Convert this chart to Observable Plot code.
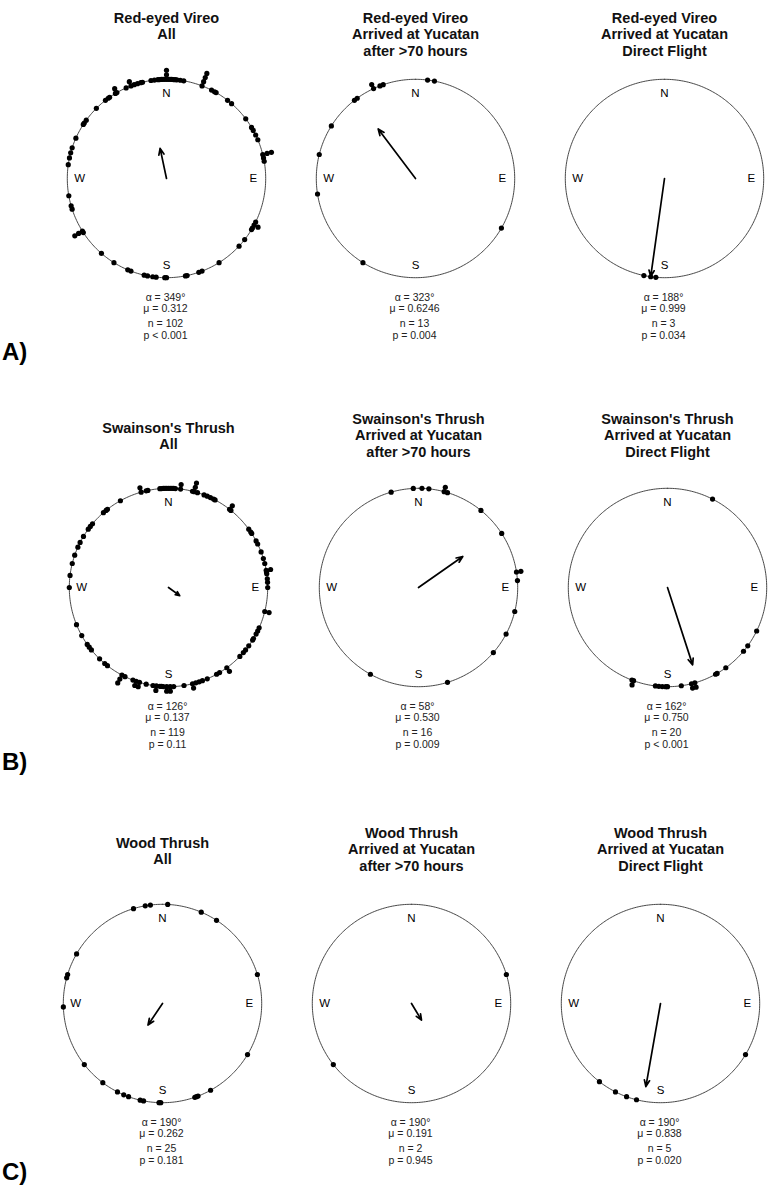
<!DOCTYPE html>
<html><head><meta charset="utf-8">
<script src="https://cdn.jsdelivr.net/npm/d3@7"></script>
<script src="https://cdn.jsdelivr.net/npm/@observablehq/plot@0.6"></script>
<style>
html,body{margin:0;padding:0;background:#fff;}
#wrap{position:relative;width:768px;height:1188px;overflow:hidden;font-family:Arial,"Liberation Sans",sans-serif;}
.lab{position:absolute;left:2px;font-weight:bold;font-size:24px;line-height:24px;color:#000;}
</style></head><body><div id="wrap"></div>
<script>
// ---- categories ----
const species = ["Red-eyed Vireo", "Swainson's Thrush", "Wood Thrush"];
const groups = [["All"], ["Arrived at Yucatan", "after >70 hours"], ["Arrived at Yucatan", "Direct Flight"]];
const rowLabels = ["A)", "B)", "C)"];

// ---- individual bearings (degrees clockwise from North) ----
const vireoAll = [351, 353, 355, 356, 357, 358, 359, 0, 0, 0, 1, 2, 3, 4, 5, 6, 8, 10,
  21, 21, 21, 21, 27, 29, 30, 38, 41, 53, 59, 61, 64, 67, 76, 76, 76, 78, 80,
  116, 118, 118, 120, 121, 128, 133, 148, 159, 161, 168, 169, 180, 181,
  186, 188, 191, 193, 201, 203, 212, 221, 237, 238, 238, 238, 252, 254, 260,
  278, 282, 285, 288, 294, 303, 304, 306, 315, 322, 324, 325, 329, 330, 330,
  336, 339, 339, 341, 343, 345, 346];
const vireo70h = [335, 335, 339, 341, 7, 11, 322, 324, 302, 284, 261, 212, 120];
const vireoDirect = [192, 188, 185];
const thrushAll = [355, 356, 357, 358, 359, 0, 1, 2, 3, 4, 7, 7, 344, 344, 347, 348,
  15, 15, 15, 14, 17, 21, 23, 25, 27, 28, 38, 38, 39, 331, 54, 56, 57, 62, 64, 69,
  73, 76, 80, 80, 81, 82, 85, 87, 90, 104, 104, 114, 116, 118, 121, 122,
  126, 129, 131, 134, 144, 144, 149, 151, 157, 160, 162, 164, 166, 166, 171,
  177, 179, 179, 181, 181, 183, 184, 185, 187, 187, 189, 193, 197, 197, 199, 199, 201,
  206, 208, 208, 208, 218, 220, 224, 231, 233, 235, 241, 248, 277, 270, 284, 289,
  294, 297, 301, 306, 308, 310, 319, 321, 322];
const thrush70h = [344, 357, 2, 6, 15, 15, 17, 39, 57, 81, 81, 86, 104, 118, 131, 163, 209];
const thrushDirect = [27, 116, 126, 130, 144, 150, 151, 164, 164, 166, 166, 172, 180, 181, 183, 185, 187, 200, 200, 201];
const woodAll = [343, 350, 353, 3, 23, 33, 73, 121, 151, 159, 160, 161, 181, 182, 191, 193,
  200, 203, 207, 217, 232, 268, 285, 287, 300];
const wood70h = [73, 232];
const woodDirect = [121, 218, 207, 200, 194];

// ---- mean vectors as drawn (direction in degrees, length as fraction of radius) ----
const meanDir = [348, 323, 188, 126, 55, 162, 214, 149, 190];
const meanLen = [0.31, 0.625, 0.999, 0.14, 0.545, 0.82, 0.262, 0.196, 0.85];

// ---- statistics labels ----
const alphaText = ["349", "323", "188", "126", "58", "162", "190", "190", "190"];
const muText = ["0.312", "0.6246", "0.999", "0.137", "0.530", "0.750", "0.262", "0.191", "0.838"];
const nText = ["102", "13", "3", "119", "16", "20", "25", "2", "5"];
const pText = ["p < 0.001", "p = 0.004", "p = 0.034", "p = 0.11", "p = 0.009", "p < 0.001", "p = 0.181", "p = 0.945", "p = 0.020"];
const compass = ["N", "E", "S", "W"];

const bearings = [vireoAll, vireo70h, vireoDirect, thrushAll, thrush70h, thrushDirect, woodAll, wood70h, woodDirect];

// ---- layout ----
const rowY = [178, 587, 1003];
const colX = [[166, 415, 664], [168, 418, 667], [161.5, 411, 660]];
const titleOff = [[-156, -156, -156], [-155, -164, -164], [-156, -166, -166]];
const labBase = [360, 770, 1180];
const FONT = 'Arial, "Liberation Sans", sans-serif';
const rad = Math.PI / 180;

const wrap = document.getElementById("wrap");

function panel(i, r, c) {
  const cx = colX[r][c], cy = rowY[r];
  const seen = new Map();
  const pts = bearings[i].map(a => {
    const k = ((Math.round(a) % 360) + 360) % 360;
    const lvl = seen.get(k) || 0;
    seen.set(k, lvl + 1);
    const rr = 1 + lvl * 0.045;
    return {x: rr * Math.sin(a * rad), y: rr * Math.cos(a * rad)};
  });
  const ring = d3.range(0, 361, 1);
  const vec = [{a: meanDir[i], l: meanLen[i]}];
  const compassPos = compass.map((lab, j) => ({lab, a: j * 90, k: j === 0 ? 0.86 : 0.875}));
  const title = [species[r], ...groups[c]];
  const stats = [
    {t: "\u03b1 = " + alphaText[i] + "\u00b0", dy: 122},
    {t: "\u03bc = " + muText[i], dy: 133.5},
    {t: "n = " + nText[i], dy: 148.5},
    {t: pText[i], dy: 160}
  ];
  const svg = Plot.plot({
    width: 250, height: 360,
    marginTop: 56, marginBottom: 56, marginLeft: 1, marginRight: 1,
    x: {domain: [-1.25, 1.25], axis: null},
    y: {domain: [-1.25, 1.25], axis: null},
    style: {fontFamily: FONT, background: "transparent", overflow: "visible", color: "#000"},
    marks: [
      Plot.line(ring, {x: a => Math.sin(a * rad), y: a => Math.cos(a * rad), stroke: "#333", strokeWidth: 0.9}),
      Plot.text(compassPos, {x: d => d.k * Math.sin(d.a * rad), y: d => d.k * Math.cos(d.a * rad), text: "lab", fontSize: 11.5, fill: "#000"}),
      Plot.arrow(vec, {x1: 0, y1: 0, x2: d => d.l * Math.sin(d.a * rad), y2: d => d.l * Math.cos(d.a * rad), stroke: "#000", strokeWidth: 1.7, headLength: 6, headAngle: 45}),
      Plot.dot(pts, {x: "x", y: "y", r: 2.6, fill: "#000", stroke: "none"}),
      ...title.map((t, j) => Plot.text([t], {frameAnchor: "middle", text: d => d, dy: titleOff[r][c] + j * 16.7, lineAnchor: "bottom", fontSize: 14.5, fontWeight: "bold", fill: "#111"})),
      ...stats.map(s => Plot.text([s.t], {frameAnchor: "middle", text: d => d, dx: -1, dy: s.dy, lineAnchor: "bottom", fontSize: 10.5, fill: "#222"}))
    ]
  });
  svg.style.position = "absolute";
  svg.style.left = (cx - 125) + "px";
  svg.style.top = (cy - 180) + "px";
  wrap.appendChild(svg);
}

for (let r = 0; r < 3; r++) for (let c = 0; c < 3; c++) panel(r * 3 + c, r, c);

rowLabels.forEach((t, r) => {
  const d = document.createElement("div");
  d.className = "lab";
  d.textContent = t;
  d.style.top = (labBase[r] - 20.3) + "px";
  wrap.appendChild(d);
});
</script></body></html>
